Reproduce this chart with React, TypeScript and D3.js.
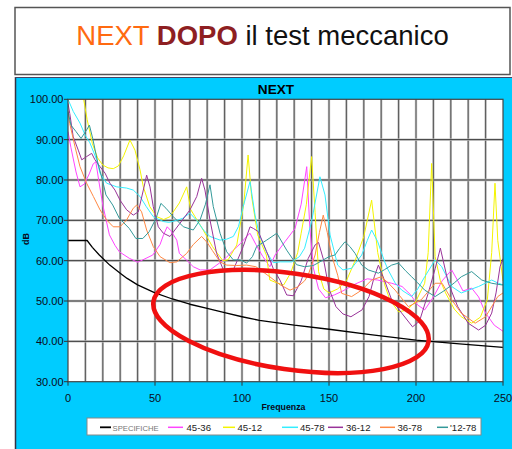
import React from "react";
import * as d3 from "d3";

type P = [number, number];

const specValues: P[] = [[0,65],[11,65],[14,63.3],[18,61.4],[24,58.9],[30,56.9],[34,55.6],[40,54.0],[50,52.0],[60,50.5],[70,49.2],[80,48.2],[90,47.1],[100,46.1],[110,45.2],[130,44.0],[150,43.0],[175,41.6],[200,40.3],[225,39.4],[250,38.5]];

const s4536: P[] = [[0,92],[1.7,88],[4.6,82],[6.9,78.3],[9.4,79],[12.2,81.5],[14.5,84],[16,84.5],[18,79],[20,73.8],[23.8,66.4],[27,63.8],[29.5,62.2],[35.2,60.6],[40,59.6],[43,60.2],[48.7,61.4],[52.9,64],[55,66.5],[57,68.4],[59,67.5],[62.5,65.1],[64,61.8],[68,60.2],[72,58.5],[76,57.7],[81.6,57.7],[87,59.4],[91,60.8],[95,62.6],[99,64.2],[102.7,66],[104.6,66.8],[108,64],[112,61],[116,58.5],[119,61.4],[124.7,64.7],[130.5,68],[134,74],[137.2,83.3],[139,68],[141,58.2],[144,53],[148,50.8],[153,51.5],[158,52.5],[165,54.2],[172,55.5],[178,55.2],[186,54.4],[192,53.6],[197,51.5],[201,49],[205,47.8],[210,51],[215,55],[220.5,57.7],[224,55],[227,52.5],[232,53.2],[236,51],[240,47],[245,44],[250,42.5]];

const s4512: P[] = [[0,108],[6,104],[9,100],[11,95],[14,89],[17,85.5],[20,83.7],[23,83],[26,82.8],[29,83.5],[32,86],[35.6,89.9],[38.5,87.4],[41.4,82.5],[43.3,78.3],[47,73.4],[51,70.9],[55,70.2],[58.6,70.9],[64,74.3],[68.2,78.3],[70.5,72.7],[73,70.9],[77.7,67.6],[83,63.5],[89,60],[92,60.2],[97,63.9],[101,74],[103.5,86.2],[105.5,76],[109,66.4],[114,61.4],[116,55.2],[120,54.5],[124,54],[128,57],[132,62],[134,66.8],[137,74],[140,85.8],[142,72],[144,57.3],[147,53],[150,52],[155,53],[160,55],[165,60],[170,66],[174.5,75],[178,62],[182,54],[185,50.3],[190,47.3],[195,47.8],[200,50],[205,54.4],[207,62],[209,84.1],[211,61],[214,55],[217,52],[222,48],[226,46.1],[232,44.5],[237,46],[241,50.3],[243.5,62],[245.4,79.2],[247,65],[250,55]];

const s4578: P[] = [[0,100],[3,97],[6.9,94.1],[10,91],[12.6,89.2],[16.5,85],[18.4,81.7],[22.2,79.2],[28,78.3],[33.7,78],[37.5,77.5],[41.4,75.9],[45,73.4],[49,70.9],[54.8,69.7],[58,69.5],[62.5,70],[66,70.5],[70,71.8],[74,70],[78,67.5],[81.6,66],[87.4,65.1],[91,65.3],[95,66],[98,68.5],[100.7,73.4],[104.6,79.6],[107.5,71.3],[110,66.4],[114,62.2],[118,59.5],[122,59.7],[128.5,59.7],[133,61],[136,63.1],[140,69.7],[144.8,80.8],[147.7,76.3],[150.6,66.4],[155,58.9],[158,57.7],[163,58.1],[168.8,61.4],[172,65],[174.5,67.6],[178,64.7],[182,59.7],[184,57.7],[188,54.5],[191.8,52.7],[197.5,51.1],[201,53],[205,56],[211,60.2],[214.8,58.5],[220.5,53.6],[226,52],[231,52.8],[236,53.6],[243.5,55.2],[247.3,54.4],[250,54]];

const s3612: P[] = [[0,99],[1,96.5],[3,90.7],[5.9,87.4],[7.9,85],[10.7,85.8],[13.6,86.6],[15.5,85],[18.4,83.3],[21.3,81.7],[24.1,79.2],[27,77.5],[29.9,75],[33.7,72.6],[37.5,71.3],[40.4,72.1],[43.3,77.5],[45.2,81.2],[47.1,78.3],[49,73.4],[51.9,68.4],[54.8,66.8],[58.6,66],[64.4,69.3],[70.1,72.6],[74,75.9],[76.8,80.4],[78.7,77.5],[81.6,70.1],[85.4,61.8],[89.3,57.7],[95,57.7],[100.7,63.5],[104.6,68.4],[106.5,68],[109.4,67.2],[114.2,62.2],[118,58],[121.8,55.2],[125.7,51.5],[129.5,51.3],[134,55],[138,60.5],[142,63.9],[144,64.5],[147,60],[150,53],[154,48.6],[158,46.8],[162.6,46.1],[169,47.8],[173,51.1],[176,56],[178.4,58.9],[182,55],[186,50.3],[191.8,47],[198,43.6],[202,45],[207,51.9],[211,58],[214,63.1],[218.6,54.4],[224,48.6],[230,44.5],[236,42.8],[240,44],[243.5,47],[246,52],[248.3,58.5],[250,60.5]];

const s3678: P[] = [[0,97],[1,94],[4,88.3],[6.9,83.3],[10.7,79.2],[14.6,75.9],[18.4,72.6],[22.2,70.1],[26,68.4],[29.9,68.4],[33.7,70.1],[37.5,73],[39.5,73.8],[42.3,72.1],[45.2,67.6],[49,63.5],[52.9,61],[58.6,59.5],[62.5,59.7],[68.2,61.8],[72,64],[76.8,66],[80,64.5],[83,62.5],[87.4,59.7],[91.2,58.9],[97,58.8],[102.7,58.9],[108,58.5],[116,56],[122,54],[127.6,52.7],[132,53.5],[136,55],[138,56.4],[142,61.4],[144.5,67],[146.7,71.3],[149,67],[151.5,61.4],[155,56.4],[157.3,51.9],[163,51.1],[168.8,52.7],[174.5,55.2],[180,56],[184,54.5],[188,52.7],[195.6,48.6],[203,50.3],[211,54.4],[215,54.4],[220.5,50.3],[226,47],[234,44.5],[240,46.1],[247,51.1],[250,52]];

const s1278: P[] = [[0,97],[1.7,93.6],[4.6,92],[7.5,90.3],[10.7,92.4],[12.3,93.6],[14.2,90.3],[17,84.5],[20,79.6],[21.8,76.3],[25.7,73.8],[29.5,70.5],[35.2,68],[39,65.5],[43,65.5],[46.7,67.2],[50.6,70.5],[53.4,74.2],[56.3,73],[60.5,70.9],[66.3,68.4],[72,67.6],[75.9,70.1],[79,74],[81.6,78.8],[83.5,73.4],[87.4,66.8],[91.2,62.2],[95,60.2],[98.9,60.2],[102.7,59.4],[106,61],[108.4,63.5],[114.2,65.1],[120,66.8],[125.7,62.6],[131.4,59],[136,58.5],[141,58.8],[146,60],[150,61],[153.4,61.4],[156,63],[159.2,64.7],[162,63.5],[165,61.8],[168.8,58.9],[172.6,57.7],[178.4,56.9],[182,57.8],[186,58.9],[190,59.4],[194,57.5],[197.5,56],[201,54.5],[205,52.7],[211,51.1],[216.7,52.7],[222,54.5],[226,56],[232,57.3],[237.8,55.2],[243.5,54.4],[249.2,54],[250,54]];

const seriesNames = ["SPECIFICHE", "45-36", "45-12", "45-78", "36-12", "36-78", "'12-78"];
const seriesData = [specValues, s4536, s4512, s4578, s3612, s3678, s1278];
const seriesColors = ["#000000", "#FF44FF", "#F4F400", "#33EEFF", "#993399", "#FF8844", "#339999"];
const yTicks = [30, 40, 50, 60, 70, 80, 90, 100];
const xTicks = [0, 50, 100, 150, 200, 250];
const gridX = d3.range(10, 250, 10);

const legendLineX = [100, 168, 223, 282, 328, 380, 437];
const legendLineW = [11, 15, 12, 16, 15, 15, 11];
const legendTextX = [112.5, 186.5, 237.5, 300, 346, 397.5, 450];

export default function App() {
  const x = d3.scaleLinear().domain([0, 250]).range([68, 503]);
  const y = d3.scaleLinear().domain([30, 100]).range([381.7, 99.3]);
  const line = d3.line<P>().x((d) => x(d[0])).y((d) => y(d[1]));
  const font = "'Liberation Sans', Arial, sans-serif";
  const x0 = x(0), x1 = x(250), y0 = y(30), y1 = y(100);

  return (
    <svg width={512} height={449} style={{ position: "absolute", left: 0, top: 0, background: "#fff" }} fontFamily={font}>
      <defs>
        <clipPath id="plotClip">
          <rect x={x0} y={y1} width={x1 - x0} height={y0 - y1} />
        </clipPath>
      </defs>
      {/* title box */}
      <rect x={15} y={7.5} width={495} height={67} fill="#fff" stroke="#555" strokeWidth={1.5} />
      <text x={262.5} y={44.5} fontSize={27.5} textAnchor="middle">
        <tspan fill="#FF6A10">NEXT </tspan>
        <tspan fill="#8E1F22" fontWeight="bold">DOPO</tspan>
        <tspan fill="#111"> il test meccanico</tspan>
      </text>
      {/* cyan panel */}
      <rect x={15} y={77} width={500} height={380} fill="#00CCFF" />
      <line x1={15.5} y1={77} x2={15.5} y2={449} stroke="#334" strokeWidth={1.5} />
      <line x1={15} y1={77.5} x2={512} y2={77.5} stroke="#446" strokeWidth={1} />
      <text x={276} y={93.5} fontSize={13.6} fontWeight="bold" textAnchor="middle" fill="#000">NEXT</text>
      {/* plot area */}
      <rect x={x0} y={y1} width={x1 - x0} height={y0 - y1} fill="#fff" />
      {gridX.map((g) => (
        <g key={"gx" + g}>
          <line x1={x(g)} x2={x(g)} y1={y1} y2={y0} stroke="#c4c4c4" strokeWidth={2.4} />
          <line x1={x(g)} x2={x(g)} y1={y1} y2={y0} stroke="#4a4a4a" strokeWidth={0.9} />
        </g>
      ))}
      {yTicks.slice(1, -1).map((t) => (
        <g key={"gy" + t}>
          <line x1={x0} x2={x1} y1={y(t)} y2={y(t)} stroke="#c0c0c0" strokeWidth={2.4} />
          <line x1={x0} x2={x1} y1={y(t)} y2={y(t)} stroke="#3a3a3a" strokeWidth={1} />
        </g>
      ))}
      <g clipPath="url(#plotClip)">
        {seriesData.map((d, i) => (
          <path key={"s" + i} d={line(d) || ""} fill="none" stroke={seriesColors[i]} strokeWidth={i === 0 ? 1.3 : 1} strokeLinejoin="round" />
        ))}
      </g>
      <rect x={x0} y={y1} width={x1 - x0} height={y0 - y1} fill="none" stroke="#444" strokeWidth={1.2} />
      {/* y axis */}
      {yTicks.map((t) => (
        <g key={"yt" + t}>
          <line x1={x0 - 4} x2={x0} y1={y(t)} y2={y(t)} stroke="#333" />
          <text x={63.5} y={y(t) + 4} fontSize={11} textAnchor="end" fill="#0a0a20">{d3.format(".2f")(t)}</text>
        </g>
      ))}
      {xTicks.map((t) => (
        <g key={"xt" + t}>
          <line x1={x(t)} x2={x(t)} y1={y0} y2={y0 + 4} stroke="#333" />
          <text x={x(t)} y={402} fontSize={11} textAnchor="middle" fill="#0a0a20">{t}</text>
        </g>
      ))}
      <text x={283.5} y={409.5} fontSize={8.8} fontWeight="bold" textAnchor="middle" fill="#0a0a20">Frequenza</text>
      <text transform="translate(28.5,239) rotate(-90)" fontSize={9} fontWeight="bold" textAnchor="middle" fill="#0a0a20">dB</text>
      {/* annotation ellipse */}
      <ellipse cx={291} cy={321.5} rx={139} ry={48} transform="rotate(8.2 291 321.5)" fill="none" stroke="#F01010" strokeWidth={4.5} />
      {/* legend */}
      <rect x={87} y={418} width={394} height={17} fill="#fff" stroke="#888" strokeWidth={1} />
      {seriesNames.map((n, i) => (
        <g key={"lg" + i}>
          <line x1={legendLineX[i]} x2={legendLineX[i] + legendLineW[i]} y1={427.3} y2={427.3} stroke={seriesColors[i]} strokeWidth={i === 0 ? 1.8 : 1.5} />
          <text x={legendTextX[i]} y={430.8} fontSize={i === 0 ? 7.7 : 9.6} fill={i === 0 ? "#777" : "#222"}>{n}</text>
        </g>
      ))}
    </svg>
  );
}
